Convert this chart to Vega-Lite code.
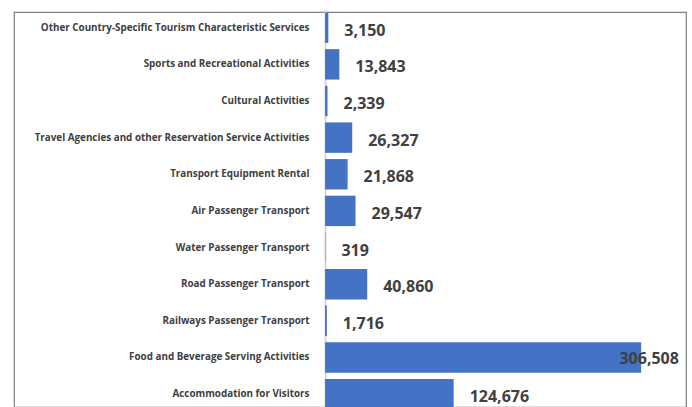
{
  "$schema": "https://vega.github.io/schema/vega-lite/v6.json",
  "autosize": {"type": "none"},
  "padding": {"left": 14, "top": 12, "right": 6, "bottom": 0},
  "width": 672,
  "height": 395,
  "background": "white",
  "config": {
    "view": {"stroke": "#7f7f7f", "strokeWidth": 1.2},
    "font": "Open Sans"
  },
  "data": {
    "values": [
      {"category": "Other Country-Specific Tourism Characteristic Services", "value": 3150},
      {"category": "Sports and Recreational Activities", "value": 13843},
      {"category": "Cultural  Activities", "value": 2339},
      {"category": "Travel Agencies and other Reservation Service Activities", "value": 26327},
      {"category": "Transport Equipment Rental", "value": 21868},
      {"category": "Air Passenger Transport", "value": 29547},
      {"category": "Water Passenger Transport", "value": 319},
      {"category": "Road Passenger Transport", "value": 40860},
      {"category": "Railways Passenger Transport", "value": 1716},
      {"category": "Food and Beverage Serving Activities", "value": 306508},
      {"category": "Accommodation for Visitors", "value": 124676}
    ]
  },
  "encoding": {
    "y": {
      "field": "category",
      "type": "nominal",
      "sort": null,
      "scale": {"range": [-2.6, 400.4], "paddingInner": 0.17, "paddingOuter": 0.085},
      "axis": {
        "title": null,
        "offset": -311,
        "ticks": false,
        "domainColor": "#d9d9d9",
        "domainWidth": 2,
        "labelFont": "Open Sans",
        "labelFontWeight": "bold",
        "labelFontSize": 9.85,
        "labelColor": "#404040",
        "labelPadding": 16,
        "labelLimit": 320
      }
    }
  },
  "layer": [
    {
      "mark": {"type": "bar", "color": "#4472C4"},
      "encoding": {
        "x": {
          "field": "value",
          "type": "quantitative",
          "scale": {"domain": [-301650, 350000], "nice": false, "zero": false},
          "axis": null
        },
        "x2": {"datum": 0}
      }
    },
    {
      "transform": [{"filter": "datum.value < 200000"}],
      "mark": {"type": "text", "align": "left", "baseline": "middle", "dx": 16, "dy": 3, "fontSize": 16, "fontWeight": "bold", "color": "#404040", "font": "Open Sans"},
      "encoding": {
        "x": {"field": "value", "type": "quantitative"},
        "text": {"field": "value", "type": "quantitative", "format": ","}
      }
    },
    {
      "transform": [{"filter": "datum.value >= 200000"}],
      "mark": {"type": "text", "align": "center", "baseline": "middle", "dx": 8, "dy": 2, "fontSize": 16, "fontWeight": "bold", "color": "#404040", "font": "Open Sans"},
      "encoding": {
        "x": {"field": "value", "type": "quantitative"},
        "text": {"field": "value", "type": "quantitative", "format": ","}
      }
    }
  ]
}
